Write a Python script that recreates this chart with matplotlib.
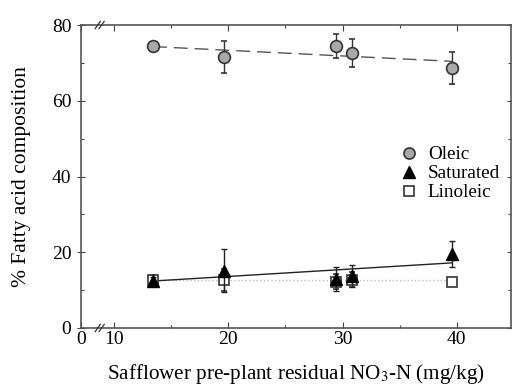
import matplotlib
matplotlib.use("Agg")
import matplotlib.pyplot as plt
import numpy as np
from matplotlib.ticker import FixedLocator
from matplotlib.lines import Line2D

plt.rcParams['font.family'] = ['Liberation Serif', 'DejaVu Serif']
plt.rcParams['mathtext.fontset'] = 'stix'

# data
nitrate = [13.4, 19.6, 29.4, 30.8, 39.6]
oleic = [74.4, 71.6, 74.5, 72.6, 68.7]
oleic_err = [1.0, 4.3, 3.1, 3.6, 4.2]
saturated = [12.4, 15.1, 13.0, 13.7, 19.5]
saturated_err = [1.0, 5.7, 3.1, 3.0, 3.4]
linoleic = [12.7, 12.7, 12.2, 12.8, 12.2]
linoleic_err = [1.2, 3.0, 2.0, 2.0, 0.0]
oleic_fit = [74.3, 70.4]
sat_fit = [12.4, 17.2]
lin_fit = [12.7, 12.7]
fit_x = [13.4, 39.6]

x_ticks = [7.1, 10, 20, 30, 40]
x_ticklabels = ['0', '10', '20', '30', '40']
y_ticks = [0, 20, 40, 60, 80]

fig = plt.figure(figsize=(5.12, 3.86), dpi=100)
ax = fig.add_axes([81/512, 1-328/386, (510.5-81)/512, (328-25)/386])

ax.plot(fit_x, oleic_fit, color='#555555', lw=1.0, dashes=(10, 5), zorder=2)
ax.plot(fit_x, sat_fit, color='#222222', lw=1.0, zorder=2)
ax.plot(fit_x, lin_fit, color='#bbbbbb', lw=1.0, ls=':', zorder=1)

ax.errorbar(nitrate, linoleic, yerr=linoleic_err, fmt='s', mfc='white', mec='#333333',
            ms=6.5, mew=1.2, ecolor='#333333', elinewidth=1, capsize=2.5, zorder=3)
ax.errorbar(nitrate, saturated, yerr=saturated_err, fmt='^', color='black',
            ms=8, ecolor='#222222', elinewidth=1, capsize=2.5, zorder=4)
ax.errorbar(nitrate, oleic, yerr=oleic_err, fmt='o', mfc='#a8a8a8', mec='#333333',
            ms=8.5, mew=1.2, ecolor='#333333', elinewidth=1, capsize=2.5, zorder=4)

ax.set_xlim(7.1, 44.7)
ax.set_ylim(0, 80)
ax.set_xticks(x_ticks)
ax.set_xticklabels(x_ticklabels)
ax.set_yticks(y_ticks)
ax.xaxis.set_minor_locator(FixedLocator([15, 25, 35]))
ax.yaxis.set_minor_locator(FixedLocator([10, 30, 50, 70]))
ax.tick_params(which='both', direction='in', top=True, right=True, labelsize=14, width=0.8, color='#444444')
ax.tick_params(which='major', length=4, pad=2)
ax.tick_params(axis='y', which='major', direction='inout', length=6, pad=4)
ax.tick_params(which='minor', length=2.5)
for s in ax.spines.values():
    s.set_color('#555555')
    s.set_linewidth(1.2)

# axis break marks
for yb in (0, 1):
    for dx in (0.0, 0.009):
        ax.plot([0.033 + dx, 0.045 + dx], [yb - 0.012, yb + 0.012], transform=ax.transAxes,
                color='#333333', lw=0.9, clip_on=False, zorder=5)

ax.set_xlabel('Safflower pre-plant residual NO$_3$-N (mg/kg)', fontsize=15.2, labelpad=10)
ax.set_ylabel('% Fatty acid composition', fontsize=15.5, labelpad=15)

handles = [
    Line2D([], [], ls='none', marker='o', mfc='#a8a8a8', mec='#333333', ms=8, mew=1.2),
    Line2D([], [], ls='none', marker='^', color='black', ms=8),
    Line2D([], [], ls='none', marker='s', mfc='white', mec='#333333', ms=6.5, mew=1.2),
]
ax.legend(handles, ['Oleic', 'Saturated', 'Linoleic'], loc='upper left',
          bbox_to_anchor=(0.705, 0.645), frameon=False, fontsize=13.8,
          handletextpad=0.4, borderpad=0.2, labelspacing=0.08, handlelength=1.2)

fig.savefig('out.png', dpi=100)
